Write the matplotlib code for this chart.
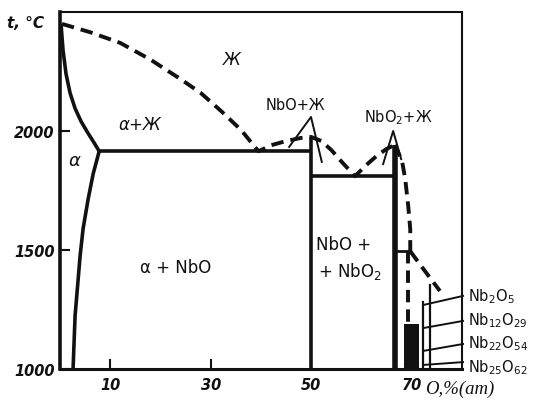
import matplotlib
matplotlib.use("Agg")
import matplotlib.pyplot as plt

# ---------------- data (x: at.% O, y: t, °C) ----------------
# liquidus, Nb -> NbO -> NbO2 (dashed)
liquidus_x = [0.4, 6, 12, 18, 24, 28, 32, 36, 39.5, 42, 45, 48, 50, 52, 54, 56, 58.7, 61, 63, 65, 66.7]
liquidus_y = [2450, 2415, 2370, 2300, 2218, 2160, 2085, 2005, 1915, 1940, 1958, 1971, 1975, 1958, 1920, 1872, 1810, 1858, 1895, 1925, 1942]
# liquidus beyond NbO2 (dashed)
liq_right_x = [66.7, 68.1, 68.7, 69.3, 69.7, 69.7]
liq_right_y = [1942, 1870, 1798, 1685, 1588, 1495]
liq_diag_x = [69.7, 72.5, 75.6]
liq_diag_y = [1495, 1415, 1328]
dash_vert_x = [69.2, 69.2]
dash_vert_y = [1495, 1190]

# alpha solid solution boundaries (solid)
solidus_x = [0.2, 0.6, 1.2, 2.0, 3.0, 4.2, 5.6, 6.8, 7.8]
solidus_y = [2450, 2340, 2240, 2160, 2095, 2040, 1990, 1950, 1915]
solvus_x = [7.8, 6.6, 5.6, 4.6, 4.0, 3.0, 2.6]
solvus_y = [1915, 1820, 1714, 1590, 1475, 1223, 1000]

# invariant lines and compounds
eut1_x, eut1_y = [7.8, 50], [1915, 1915]
nbo_x, nbo_y = [50, 50], [1975, 1000]
eut2_x, eut2_y = [50, 66.7], [1810, 1810]
nbo2_x, nbo2_y = [66.7, 66.7], [1942, 1000]
trans_x, trans_y = [66.7, 69.7], [1495, 1495]
oxide_block_x = [68.5, 71.5]
oxide_block_top = 1190
line_a_x, line_a_y = [72.2, 72.2], [1282, 1000]
line_b_x, line_b_y = [73.6, 73.6], [1355, 1000]

# label names for higher oxides and their leader lines
oxide_labels = [r"Nb$_2$O$_5$", r"Nb$_{12}$O$_{29}$", r"Nb$_{22}$O$_{54}$", r"Nb$_{25}$O$_{62}$"]
oxide_label_y = [1307, 1207, 1110, 1010]
leader_start_y = [1307, 1202, 1105, 1029]
leader_end_y = [1269, 1172, 1076, 1017]

x_ticks = [10, 30, 50, 70]
x_tick_labels = ["10", "30", "50", "70"]
y_ticks = [1000, 1500, 2000]
y_tick_labels = ["1000", "1500", "2000"]

# ---------------- figure ----------------
W, H = 537, 402
fig = plt.figure(figsize=(W / 100, H / 100), dpi=100)
ax = fig.add_axes([60 / W, 32 / H, 402 / W, 357 / H])
ax.set_xlim(0, 80)
ax.set_ylim(1000, 2500)

K = "#111111"
dash_kw = dict(color=K, lw=2.8, dashes=(3.2, 1.8), dash_capstyle="butt", solid_capstyle="butt")
solid_kw = dict(color=K, lw=2.6, solid_capstyle="butt")

ax.plot(liquidus_x, liquidus_y, **dash_kw)
ax.plot(liq_right_x, liq_right_y, **dash_kw)
ax.plot(liq_diag_x, liq_diag_y, **dash_kw)
ax.plot(dash_vert_x, dash_vert_y, **dash_kw)

ax.plot(solidus_x, solidus_y, **solid_kw)
ax.plot(solvus_x, solvus_y, **solid_kw)
ax.plot(eut1_x, eut1_y, **solid_kw)
ax.plot(nbo_x, nbo_y, **solid_kw)
ax.plot(eut2_x, eut2_y, **solid_kw)
ax.plot(nbo2_x, nbo2_y, color=K, lw=4.0, solid_capstyle="butt")
ax.plot(trans_x, trans_y, color=K, lw=2.0)
ax.fill_between(oxide_block_x, 1000, oxide_block_top, color=K, lw=0)
ax.plot(line_a_x, line_a_y, color=K, lw=1.6)
ax.plot(line_b_x, line_b_y, color=K, lw=1.6)

# leader lines and labels of the higher oxides
for lab, ly, ys, ye in zip(oxide_labels, oxide_label_y, leader_start_y, leader_end_y):
    ax.plot([80.2, 72.3], [ys, ye], color=K, lw=1.4, clip_on=False)
    ax.text(81.2, ly, lab, fontsize=10.5, va="center", ha="left", color=K)

# Λ-shaped pointers
ax.plot([45.6, 49.95, 52.1], [1933, 2059, 1870], color=K, lw=1.4)
ax.plot([64.3, 66.3, 67.9], [1861, 2000, 1882], color=K, lw=1.4)

# region labels
tk = dict(color=K, ha="center", va="center")
ax.text(34.2, 2302, "Ж", fontsize=12, style="italic", **tk)
ax.text(15.9, 2029, "α+Ж", fontsize=12, style="italic", **tk)
ax.text(2.8, 1878, "α", fontsize=13, style="italic", **tk)
ax.text(23.1, 1429, "α + NbO", fontsize=12, **tk)
ax.text(56.5, 1525, "NbO +", fontsize=12, **tk)
ax.text(57.7, 1412, r"+ NbO$_2$", fontsize=12, **tk)
ax.text(46.8, 2113, "NbO+Ж", fontsize=10.5, **tk)
ax.text(67.3, 2059, r"NbO$_2$+Ж", fontsize=10.5, **tk)

# axes styling
for side, lw in [("left", 2.6), ("bottom", 2.2), ("top", 1.5), ("right", 1.5)]:
    ax.spines[side].set_linewidth(lw)
    ax.spines[side].set_color(K)
ax.set_xticks(x_ticks)
ax.set_xticklabels(x_tick_labels)
ax.set_yticks(y_ticks)
ax.set_yticklabels(y_tick_labels)
ax.tick_params(axis="both", direction="in", length=7, width=1.5, color=K)
ax.tick_params(axis="x", pad=6)
ax.tick_params(axis="y", pad=4)
for t in ax.get_xticklabels() + ax.get_yticklabels():
    t.set_fontstyle("italic")
    t.set_fontweight("bold")
    t.set_fontsize(10.5)
    t.set_color(K)

fig.text(7 / W, 1 - 23 / H, "t, °C", fontsize=11, style="italic", fontweight="bold",
         ha="left", va="center", color=K)
fig.text(425 / W, 1 - 389 / H, "O,%(ат)", fontsize=13.5, style="italic",
         family=["Liberation Serif", "DejaVu Sans"], ha="left", va="center", color=K)

fig.savefig("out.png", dpi=100, facecolor="white")
